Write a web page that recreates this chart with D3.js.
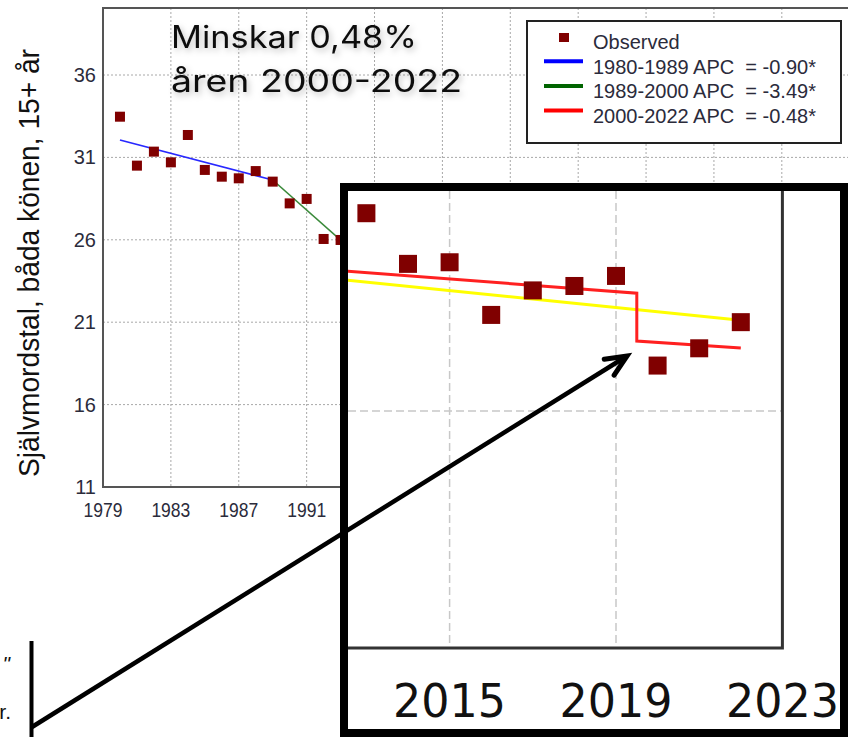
<!DOCTYPE html>
<html lang="sv">
<head>
<meta charset="UTF-8">
<title>Självmordstal 1980-2022</title>
<script src="https://d3js.org/d3.v7.min.js"></script>
<style>
  body { margin: 0; background: #fff; }
  svg { display: block; }
  .keep { white-space: pre; }
</style>
</head>
<body>
<script>
    // observed rates (only the years that are visible in the picture)
    var years = [1980, 1981, 1982, 1983, 1984, 1985, 1986, 1987, 1988, 1989, 1990, 1991, 1992, 1993,
                 2013, 2014, 2015, 2016, 2017, 2018, 2019, 2020, 2021, 2022];
    var observed = [33.47, 30.5, 31.35, 30.7, 32.36, 30.24, 29.83, 29.73, 30.17, 29.53, 28.21, 28.48, 26.05, 25.99,
                    20.92, 19.66, 19.70, 18.39, 19.00, 19.11, 19.36, 17.13, 17.56, 18.21];

    // joinpoint segments
    var blueYears = [1980, 1989], blueValues = [32.06, 29.63];
    var greenYears = [1989, 2000], greenValues = [29.63, 19.6];
    var redYears = [2000, 2022], redValues = [20.47, 18.73];
    // hand drawn lines in the zoomed part
    var stepYears = [2000, 2019.5, 2019.5, 2022], stepValues = [20.47, 18.93, 17.74, 17.57];
    var yellowYears = [2012, 2022], yellowValues = [19.31, 18.26];

    var yTicks = [11, 16, 21, 26, 31, 36];
    var xTicks = [1979, 1983, 1987, 1991, 1995, 1999, 2003, 2007, 2011, 2015, 2019, 2023];
    var insetTicks = [2015, 2019, 2023];
    var insetGridY = [16];

    var legendLabels = ["Observed", "1980-1989 APC  = -0.90*", "1989-2000 APC  = -3.49*", "2000-2022 APC  = -0.48*"];
    var legendColors = ["#800000", "#0000ff", "#006400", "#ff0000"];
    var titleLines = ["Minskar 0,48%", "åren 2000-2022"];

    var width = 848, height = 737;
    var svg = d3.select("body").append("svg")
        .attr("width", width)
        .attr("height", height);

    var defs = svg.append("defs");
    defs.append("clipPath").attr("id", "mainClip")
        .append("rect").attr("x", 103).attr("y", 8).attr("width", 745).attr("height", 479);
    defs.append("clipPath").attr("id", "insetClip")
        .append("rect").attr("x", 348).attr("y", 191).attr("width", 435).attr("height", 457);
    var shadow = defs.append("filter").attr("id", "shadow")
        .attr("x", "-10%").attr("y", "-30%").attr("width", "130%").attr("height", "170%");
    shadow.append("feDropShadow")
        .attr("dx", 2).attr("dy", 3).attr("stdDeviation", 3)
        .attr("flood-color", "#000").attr("flood-opacity", 0.25);

    var obs = years.map(function(d, i) { return [d, observed[i]]; });
    function pairs(a, b) { return a.map(function(d, i) { return [d, b[i]]; }); }

    // ---------- main chart ----------
    var x = d3.scaleLinear().domain([1979, 2023]).range([103, 849.7]);
    var y = d3.scaleLinear().domain([11, 36]).range([487, 75]);

    var main = svg.append("g");

    main.append("g").selectAll("line")
        .data(yTicks.slice(1))
        .enter().append("line")
        .attr("x1", 103).attr("x2", 848)
        .attr("y1", y).attr("y2", y)
        .attr("stroke", "#a8a8a8").attr("stroke-dasharray", "2,2");

    main.append("g").selectAll("line")
        .data(xTicks.slice(1))
        .enter().append("line")
        .attr("x1", x).attr("x2", x)
        .attr("y1", 8).attr("y2", 487)
        .attr("stroke", "#a8a8a8").attr("stroke-dasharray", "2,2");

    // frame
    main.append("path")
        .attr("d", "M848,8H103V487H848")
        .attr("fill", "none").attr("stroke", "#555").attr("stroke-width", 2);

    main.append("g").selectAll("text")
        .data(yTicks)
        .enter().append("text")
        .attr("x", 96).attr("y", y).attr("dy", "0.35em")
        .attr("text-anchor", "end")
        .attr("font-family", "Liberation Sans, Arial, sans-serif")
        .attr("font-size", 20).attr("fill", "#2b2b3b")
        .text(function(d) { return d; });

    // labels past 2019 would fall off the page (the rest sit under the zoom box)
    main.append("g").selectAll("text")
        .data(xTicks.filter(function(d) { return d < 2023; }))
        .enter().append("text")
        .attr("x", x).attr("y", 517)
        .attr("text-anchor", "middle")
        .attr("font-family", "Liberation Sans, Arial, sans-serif")
        .attr("font-size", 20).attr("fill", "#2b2b3b")
        .attr("textLength", 39).attr("lengthAdjust", "spacingAndGlyphs")
        .text(function(d) { return d; });

    main.append("text")
        .attr("transform", "translate(39,263)rotate(-90)")
        .attr("text-anchor", "middle")
        .attr("font-family", "Liberation Sans, Arial, sans-serif")
        .attr("font-size", 29).attr("fill", "#111")
        .attr("textLength", 428).attr("lengthAdjust", "spacingAndGlyphs")
        .text("Självmordstal, båda könen, 15+ år");

    var mainLine = d3.line().x(function(d) { return x(d[0]); }).y(function(d) { return y(d[1]); });
    var plot = main.append("g").attr("clip-path", "url(#mainClip)");
    plot.append("path").datum(pairs(blueYears, blueValues))
        .attr("d", mainLine).attr("fill", "none").attr("stroke", "#2828ff").attr("stroke-width", 1.6);
    plot.append("path").datum(pairs(greenYears, greenValues))
        .attr("d", mainLine).attr("fill", "none").attr("stroke", "#3a8a3a").attr("stroke-width", 1.6);
    plot.append("path").datum(pairs(redYears, redValues))
        .attr("d", mainLine).attr("fill", "none").attr("stroke", "#ff0000").attr("stroke-width", 1.6);
    plot.append("g").selectAll("rect")
        .data(obs)
        .enter().append("rect")
        .attr("x", function(d) { return x(d[0]) - 5; })
        .attr("y", function(d) { return y(d[1]) - 5; })
        .attr("width", 10).attr("height", 10)
        .attr("fill", "#800000");

    // ---------- annotation text ----------
    svg.append("g").attr("filter", "url(#shadow)")
        .selectAll("text")
        .data(titleLines)
        .enter().append("text")
        .attr("x", 171).attr("y", function(d, i) { return 48 + i * 44; })
        .attr("font-family", "Inter, sans-serif")
        .attr("font-size", 31).attr("fill", "#111")
        .attr("textLength", function(d, i) { return i === 0 ? 246 : 291; })
        .attr("lengthAdjust", "spacingAndGlyphs")
        .text(function(d) { return d; });

    // ---------- legend ----------
    var legend = svg.append("g");
    legend.append("rect")
        .attr("x", 527).attr("y", 21).attr("width", 314).attr("height", 122)
        .attr("fill", "#fff").attr("stroke", "#222").attr("stroke-width", 2);

    var item = legend.selectAll("g.item")
        .data(legendLabels)
        .enter().append("g").attr("class", "item")
        .attr("transform", function(d, i) { return "translate(0," + (49 + i * 24.7) + ")"; });

    item.filter(function(d, i) { return i === 0; })
        .append("rect")
        .attr("x", 559).attr("y", -16).attr("width", 10).attr("height", 9)
        .attr("fill", legendColors[0]);

    item.filter(function(d, i) { return i > 0; })
        .append("line")
        .attr("x1", 544).attr("x2", 583).attr("y1", -12.5).attr("y2", -12.5)
        .attr("stroke", function(d, i) { return legendColors[i + 1]; })
        .attr("stroke-width", 4);

    item.append("text")
        .attr("class", "keep")
        .attr("x", 593).attr("y", 0)
        .attr("font-family", "Liberation Sans, Arial, sans-serif")
        .attr("font-size", 20).attr("fill", "#2b2b3b")
        .text(function(d) { return d; });

    // ---------- zoomed inset ----------
    var xi = d3.scaleLinear().domain([2015, 2019]).range([449.6, 616]);
    var yi = d3.scaleLinear().domain([16, 21]).range([411, 210]);
    var insetLine = d3.line().x(function(d) { return xi(d[0]); }).y(function(d) { return yi(d[1]); });

    var inset = svg.append("g");
    inset.append("rect")
        .attr("x", 344).attr("y", 187).attr("width", 500).attr("height", 546)
        .attr("fill", "#fff").attr("stroke", "#000").attr("stroke-width", 8);

    inset.append("g").selectAll("line")
        .data(insetTicks.slice(0, 2))
        .enter().append("line")
        .attr("x1", xi).attr("x2", xi).attr("y1", 191).attr("y2", 648)
        .attr("stroke", "#c8c8c8").attr("stroke-width", 1.5).attr("stroke-dasharray", "8,4");
    inset.append("g").selectAll("line")
        .data(insetGridY)
        .enter().append("line")
        .attr("x1", 348).attr("x2", 783).attr("y1", yi).attr("y2", yi)
        .attr("stroke", "#c8c8c8").attr("stroke-width", 1.5).attr("stroke-dasharray", "8,4");

    var ip = inset.append("g").attr("clip-path", "url(#insetClip)");
    ip.append("path").datum(pairs(yellowYears, yellowValues))
        .attr("d", insetLine).attr("fill", "none").attr("stroke", "#ffff00").attr("stroke-width", 3);
    ip.append("path").datum(pairs(stepYears, stepValues))
        .attr("d", insetLine).attr("fill", "none").attr("stroke", "#ff2020").attr("stroke-width", 3);
    ip.append("g").selectAll("rect")
        .data(obs)
        .enter().append("rect")
        .attr("x", function(d) { return xi(d[0]) - 9; })
        .attr("y", function(d) { return yi(d[1]) - 9; })
        .attr("width", 18).attr("height", 18)
        .attr("fill", "#800000");

    inset.append("path")
        .attr("d", "M348,648H" + xi(2023) + "V191")
        .attr("fill", "none").attr("stroke", "#333").attr("stroke-width", 3);

    inset.append("g").selectAll("text")
        .data(insetTicks)
        .enter().append("text")
        .attr("x", xi).attr("y", 717)
        .attr("text-anchor", "middle")
        .attr("font-family", "DejaVu Sans, Verdana, sans-serif")
        .attr("font-size", 47).attr("fill", "#111")
        .attr("textLength", 113).attr("lengthAdjust", "spacingAndGlyphs")
        .text(function(d) { return d; });

    // ---------- arrow and clipped neighbour text ----------
    var deco = svg.append("g");
    deco.append("line")
        .attr("x1", 31.5).attr("x2", 31.5).attr("y1", 641).attr("y2", 737)
        .attr("stroke", "#000").attr("stroke-width", 4);

    var tip = [627, 356], start = [32, 727];
    var ang = Math.atan2(start[1] - tip[1], start[0] - tip[0]);
    var arm = 23, spread = 24 * Math.PI / 180;
    deco.append("line")
        .attr("x1", start[0]).attr("y1", start[1]).attr("x2", tip[0]).attr("y2", tip[1])
        .attr("stroke", "#000").attr("stroke-width", 4.5);
    deco.append("path")
        .attr("d", "M" + (tip[0] + arm * Math.cos(ang + spread)) + "," + (tip[1] + arm * Math.sin(ang + spread)) +
            "L" + tip[0] + "," + tip[1] +
            "L" + (tip[0] + arm * Math.cos(ang - spread)) + "," + (tip[1] + arm * Math.sin(ang - spread)))
        .attr("fill", "none").attr("stroke", "#000").attr("stroke-width", 5)
        .attr("stroke-linecap", "round").attr("stroke-linejoin", "miter");

    deco.append("text")
        .attr("x", 10).attr("y", 671).attr("text-anchor", "end")
        .attr("font-family", "Liberation Sans, Arial, sans-serif")
        .attr("font-size", 21).attr("font-style", "italic").attr("fill", "#111")
        .text("\"");
    deco.append("text")
        .attr("x", 11).attr("y", 719).attr("text-anchor", "end")
        .attr("font-family", "Liberation Sans, Arial, sans-serif")
        .attr("font-size", 21).attr("fill", "#111")
        .text("r.");
</script>
</body>
</html>
